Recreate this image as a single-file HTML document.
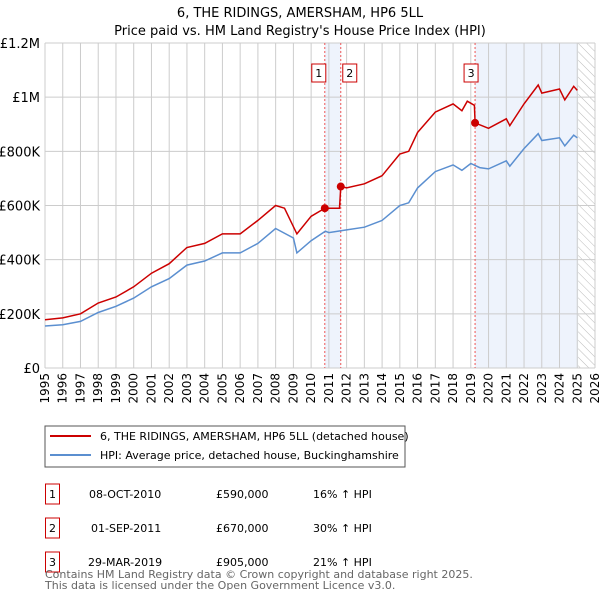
<!DOCTYPE html>
<html><head><meta charset="utf-8"><style>
body{margin:0;background:#fff;font-family:"Liberation Sans","DejaVu Sans",sans-serif;}
svg text{font-family:"DejaVu Sans","Liberation Sans",sans-serif;}
</style></head><body>
<svg id="c" width="600" height="590" viewBox="0 0 600 590" xmlns="http://www.w3.org/2000/svg">
<text x="300" y="17" text-anchor="middle" font-size="13" fill="#000">6, THE RIDINGS, AMERSHAM, HP6 5LL</text>
<text x="300" y="35" text-anchor="middle" font-size="13" fill="#000">Price paid vs. HM Land Registry's House Price Index (HPI)</text>
<g id="grid"></g><g id="marks"></g>
<rect x="45" y="426" width="360" height="41" fill="#fff" stroke="#555"/>
<line x1="50" y1="436" x2="91" y2="436" stroke="#cc0000" stroke-width="2"/>
<text x="100" y="440" font-size="11">6, THE RIDINGS, AMERSHAM, HP6 5LL (detached house)</text>
<line x1="50" y1="455" x2="91" y2="455" stroke="#5b8fd0" stroke-width="2"/>
<text x="100" y="459" font-size="11">HPI: Average price, detached house, Buckinghamshire</text>
<g font-size="11">
<rect x="45.5" y="484" width="14" height="20" fill="none" stroke="#cc0000"/><text x="52.5" y="498" text-anchor="middle">1</text>
<text x="89" y="498">08-OCT-2010</text><text x="216" y="498">£590,000</text><text x="313" y="498">16% ↑ HPI</text>
<rect x="45.5" y="518" width="14" height="20" fill="none" stroke="#cc0000"/><text x="52.5" y="532" text-anchor="middle">2</text>
<text x="91" y="532">01-SEP-2011</text><text x="216" y="532">£670,000</text><text x="313" y="532">30% ↑ HPI</text>
<rect x="45.5" y="552" width="14" height="20" fill="none" stroke="#cc0000"/><text x="52.5" y="566" text-anchor="middle">3</text>
<text x="88" y="566">29-MAR-2019</text><text x="216" y="566">£905,000</text><text x="313" y="566">21% ↑ HPI</text>
</g>
<text x="45" y="578" font-size="11" fill="#666">Contains HM Land Registry data © Crown copyright and database right 2025.</text>
<text x="45" y="589" font-size="11" fill="#666">This data is licensed under the Open Government Licence v3.0.</text>
</svg>
<script>
const hpiYears=[1995,1996,1997,1998,1999,2000,2001,2002,2003,2004,2005,2006,2007,2008,2009,2009.2,2010,2010.8,2011,2012,2013,2014,2015,2015.5,2016,2017,2018,2018.5,2019,2019.5,2020,2021,2021.2,2022,2022.8,2023,2024,2024.3,2024.8,2025];
const hpiValues=[155000,160000,172000,205000,228000,258000,300000,330000,380000,395000,425000,425000,460000,515000,480000,425000,470000,505000,500000,510000,520000,545000,600000,610000,665000,725000,750000,730000,755000,740000,735000,765000,745000,810000,865000,840000,850000,820000,860000,850000];
const priceYears=[1995,1996,1997,1998,1999,2000,2001,2002,2003,2004,2005,2006,2007,2008,2008.5,2009.2,2010,2010.77,2011.6,2011.67,2012,2013,2014,2015,2015.5,2016,2017,2018,2018.5,2018.8,2019.2,2019.24,2020,2021,2021.2,2022,2022.8,2023,2024,2024.3,2024.8,2025];
const priceValues=[178000,185000,200000,240000,262000,300000,350000,385000,445000,460000,495000,495000,545000,600000,590000,495000,560000,590000,590000,670000,665000,680000,710000,790000,800000,870000,945000,975000,950000,985000,970000,905000,885000,920000,895000,975000,1045000,1015000,1030000,990000,1040000,1025000];
const saleYears=[2010.77,2011.67,2019.24];
const saleValues=[590000,670000,905000];
const saleLabels=["1","2","3"];
const yTicks=[0,200000,400000,600000,800000,1000000,1200000];
const yTickLabels=["£0","£200K","£400K","£600K","£800K","£1M","£1.2M"];
const xTicks=[1995,1996,1997,1998,1999,2000,2001,2002,2003,2004,2005,2006,2007,2008,2009,2010,2011,2012,2013,2014,2015,2016,2017,2018,2019,2020,2021,2022,2023,2024,2025,2026];
const NS="http://www.w3.org/2000/svg";
const X0=45,X1=595,Y0=368,Y1=43;
const x=v=>X0+(v-1995)/(2026-1995)*(X1-X0);
const y=v=>Y0-(v/1200000)*(Y0-Y1);
function mk(p,t,a){const e=document.createElementNS(NS,t);for(const k in a)e.setAttribute(k,a[k]);p.appendChild(e);return e;}
const g=document.getElementById('grid'),m=document.getElementById('marks');
let s=mk(g,'rect',{x:x(saleYears[0]),y:Y1,width:x(saleYears[1])-x(saleYears[0]),height:Y0-Y1,fill:'#eef3fc'});


s=mk(g,'rect',{x:x(saleYears[2]),y:Y1,width:x(2025.05)-x(saleYears[2]),height:Y0-Y1,fill:'#eef3fc'});


const defs=mk(g,'defs',{});
const pat=mk(defs,'pattern',{id:'h',width:6,height:6,patternUnits:'userSpaceOnUse',patternTransform:'rotate(-45)'});
mk(pat,'line',{x1:0,y1:0,x2:0,y2:6,stroke:'#bbb','stroke-width':1});
s=mk(g,'rect',{x:x(2025.05),y:Y1,width:X1-x(2025.05),height:Y0-Y1,fill:'url(#h)'});


xTicks.forEach(t=>{
 const l=mk(g,'line',{x1:x(t),x2:x(t),y1:Y1,y2:Y0,stroke:'#ccc'});
 
 
 const tx=mk(g,'text',{x:0,y:0,'font-size':12,'text-anchor':'end',transform:`translate(${x(t)+4},${Y0+5}) rotate(-90)`});
 tx.textContent=t;
 
 
});
yTicks.forEach((t,i)=>{
 const l=mk(g,'line',{x1:X0,x2:X1,y1:y(t),y2:y(t),stroke:'#ccc'});
 
 
 const tx=mk(g,'text',{x:40,y:y(t)+5,'font-size':13,'text-anchor':'end'});
 tx.textContent=yTickLabels[i];
 
 
});
saleYears.forEach((yr,i)=>{
 const l=mk(m,'line',{x1:x(yr),x2:x(yr),y1:Y1,y2:Y0,stroke:'#e55','stroke-dasharray':'2,2'});
 
 
});
function path(xs,vs,col,name){
 const p=mk(m,'path',{d:xs.map((v,i)=>(i?'L':'M')+x(v).toFixed(1)+','+y(vs[i]).toFixed(1)).join(''),fill:'none',stroke:col,'stroke-width':1.5});
 
 
}
path(hpiYears,hpiValues,'#5b8fd0','hpi-line');
path(priceYears,priceValues,'#cc0000','price-paid-line');
saleYears.forEach((yr,i)=>{
 const c=mk(m,'circle',{cx:x(yr),cy:y(saleValues[i]),r:4,fill:'#cc0000'});
 
 
 const off=i==0?-6:(i==1?9:-4);
 const r=mk(m,'rect',{x:x(yr)+off-7,y:64,width:14,height:18,fill:'#fff',stroke:'#cc0000'});
 
 
 const t=mk(m,'text',{x:x(yr)+off,y:77,'font-size':11,'text-anchor':'middle'});
 t.textContent=saleLabels[i];
 
 
});
</script>
</body></html>
